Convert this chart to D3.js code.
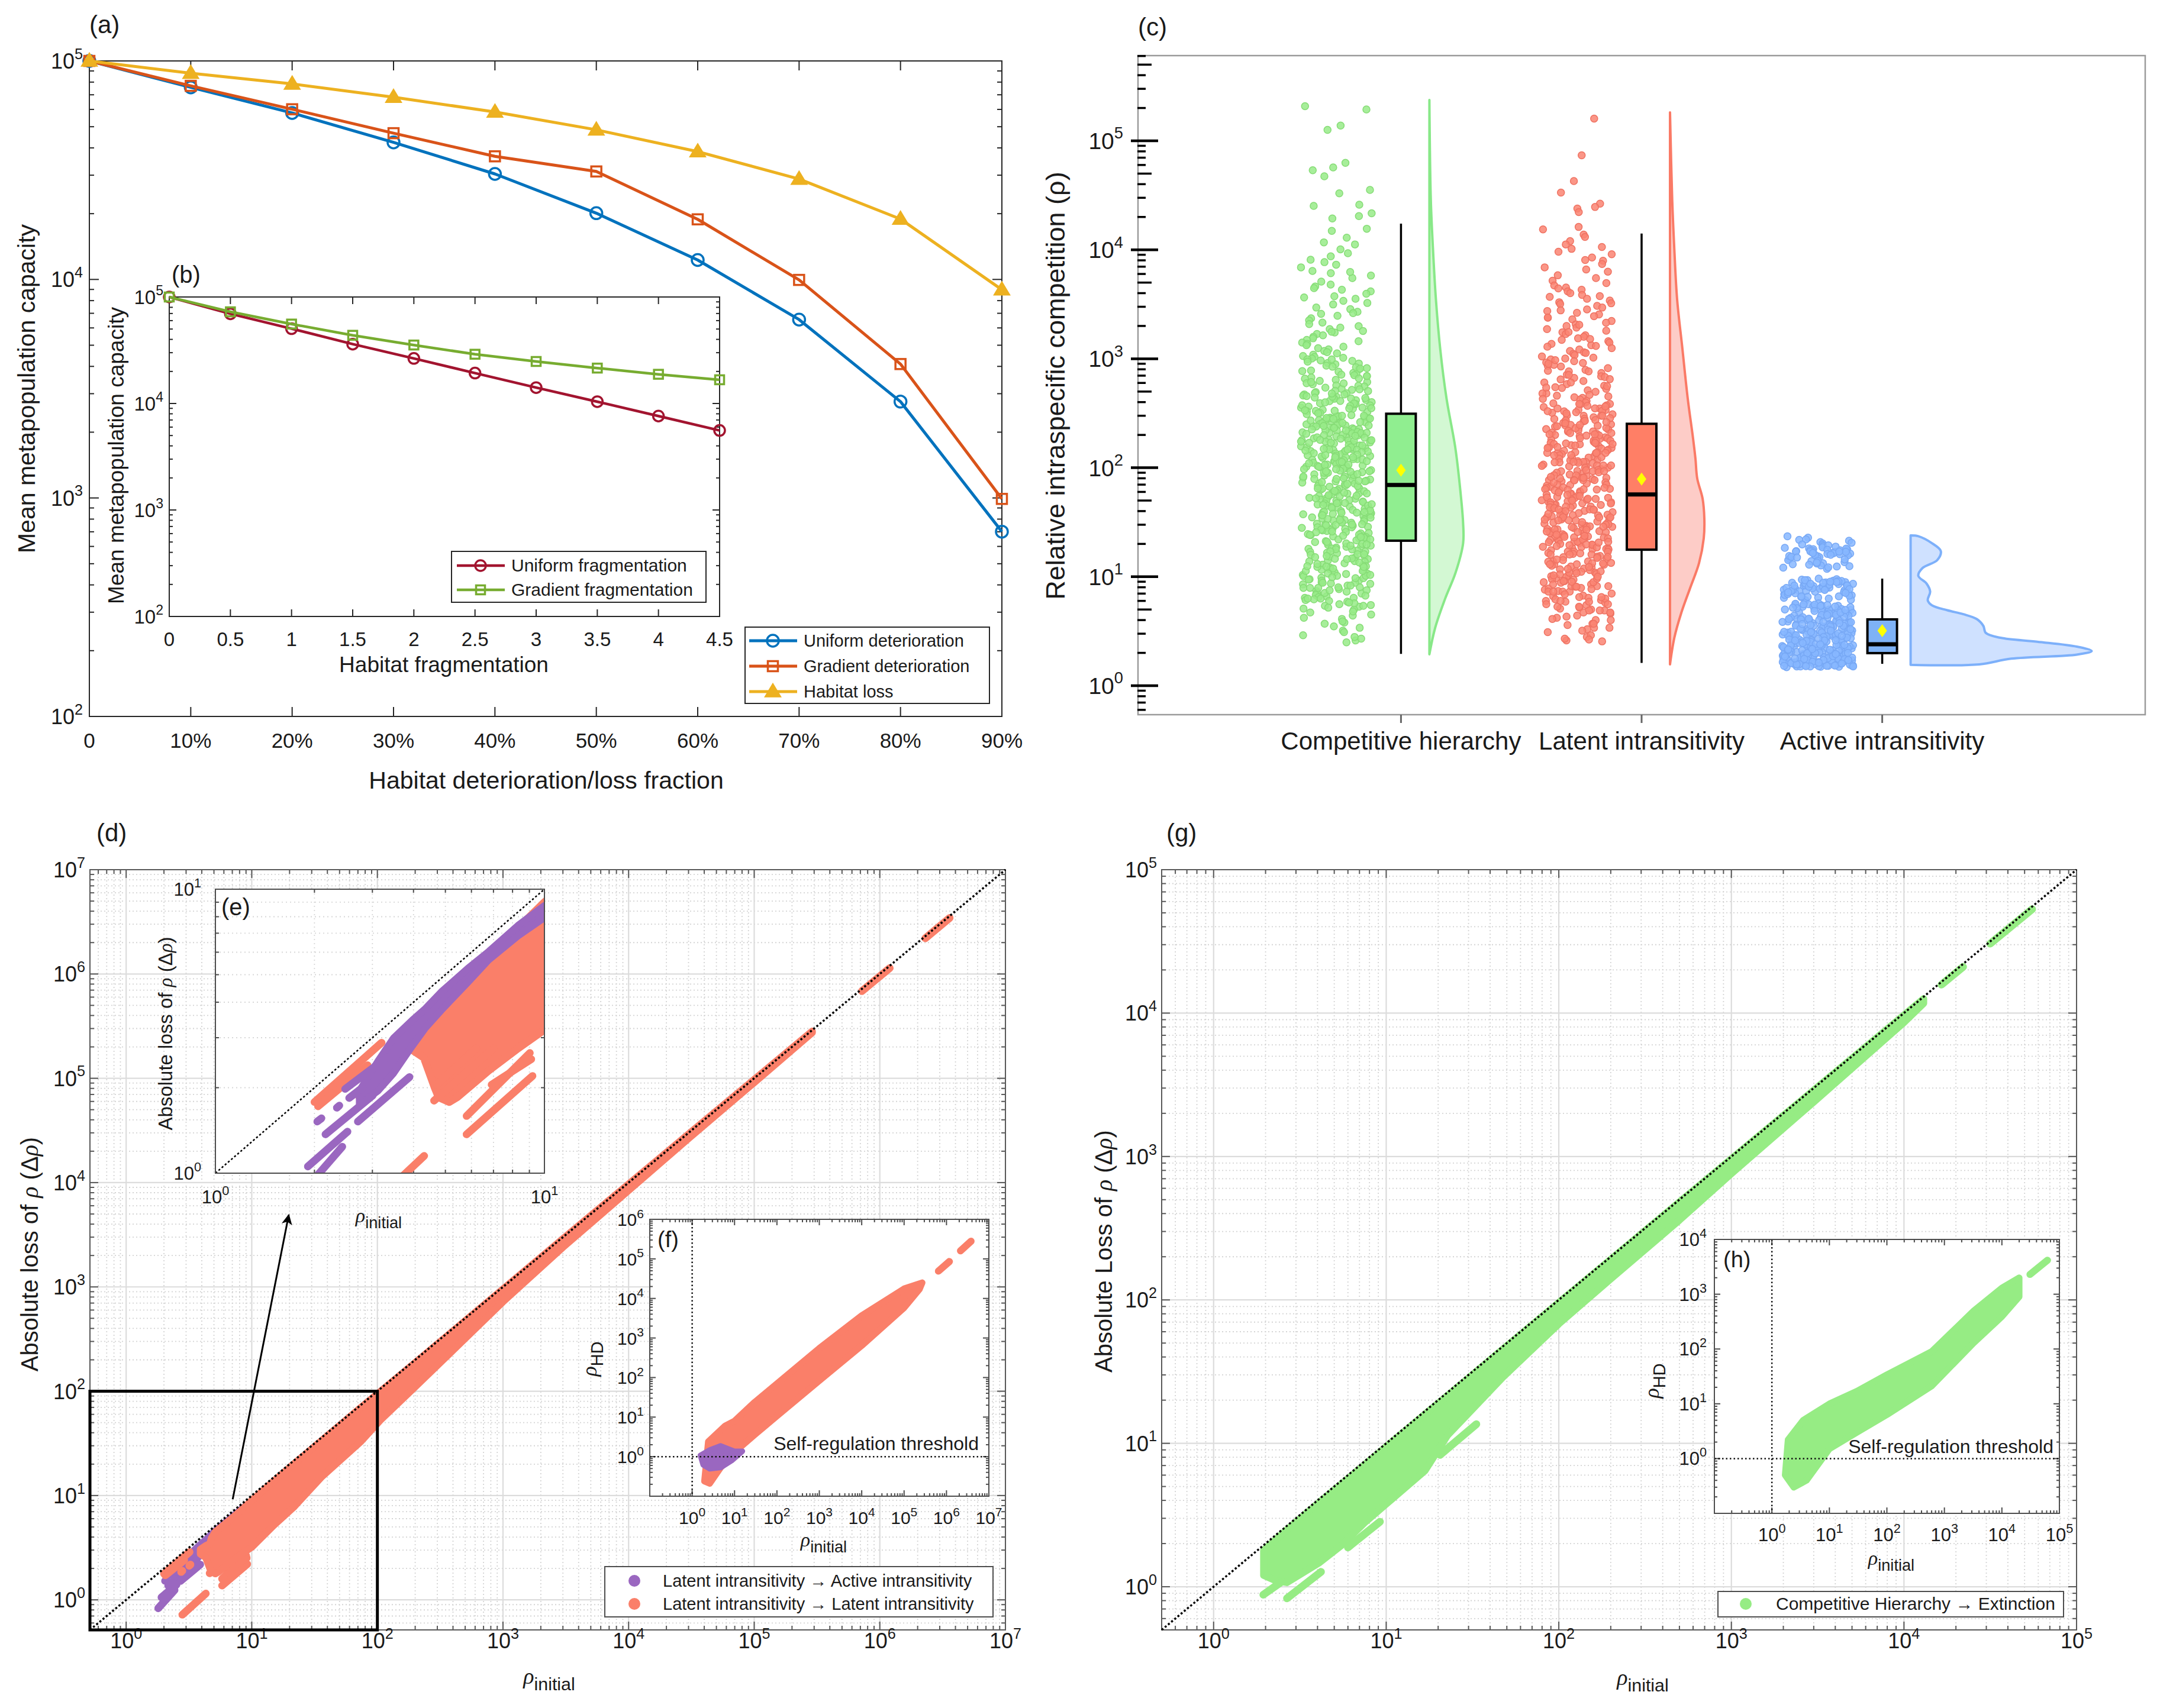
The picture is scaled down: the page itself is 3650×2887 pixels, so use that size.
<!DOCTYPE html>
<html><head><meta charset="utf-8">
<script src="https://cdn.jsdelivr.net/npm/d3@7/dist/d3.min.js"></script>
<style>
html,body{margin:0;padding:0;background:#fff;overflow:hidden;}
svg text{font-family:'Liberation Sans',Arial,Helvetica,sans-serif;}
</style></head><body>
<svg id="fig" width="3650" height="2887" viewBox="0 0 3650 2887"></svg>
<script>
// ================= DATA =================
// (a) metapopulation capacity vs habitat deterioration / loss fraction
const lossFraction=[0,0.1,0.2,0.3,0.4,0.5,0.6,0.7,0.8,0.9];
const lossFractionLabels=['0','10%','20%','30%','40%','50%','60%','70%','80%','90%'];
const uniformDeterioration=[100000,75700,57800,42400,30400,20100,12270,6550,2760,701];
const gradientDeterioration=[100000,76900,60100,46700,36600,31200,18840,9950,4100,990];
const habitatLoss=[100000,87900,78500,68300,58400,48400,38460,28800,18900,8980];
const capacityDecades=[100,1000,10000,100000];
// (b) metapopulation capacity vs habitat fragmentation
const fragmentation=[0,0.5,1,1.5,2,2.5,3,3.5,4,4.5];
const fragmentationLabels=['0','0.5','1','1.5','2','2.5','3','3.5','4','4.5'];
const uniformFragmentation=[100000,69500,50400,36100,26500,19300,14100,10400,7620,5580];
const gradientFragmentation=[100000,72600,55700,43700,35400,29000,24800,21500,18800,16700];

// (c) relative intraspecific competition by community type
const competitionGroups=['Competitive hierarchy','Latent intransitivity','Active intransitivity'];
const rhoDecades=[1,10,100,1000,10000,100000];
const boxQ1=[21.4,17.7,1.99];
const boxMedian=[69.5,56.9,2.40];
const boxQ3=[313,253,4.06];
const whiskerLow=[1.96,1.62,1.59];
const whiskerHigh=[17400,14100,9.6];
const groupMean=[95,78.8,3.2];
// violin half-densities: [rho, density]
const violinHierarchy=[[237000,0],[28900,0.024],[10100,0.061],[3520,0.11],[1230,0.183],[430,0.29],[150,0.44],[52.3,0.536],[30.9,0.57],[20.3,0.57],[10.8,0.44],[6.37,0.27],[3.39,0.097],[1.94,0]];
const violinLatent=[[182000,0],[28900,0.037],[10100,0.073],[3520,0.12],[1230,0.21],[430,0.30],[185,0.39],[121,0.43],[79.7,0.46],[52.3,0.55],[34.3,0.58],[22.5,0.57],[13.3,0.49],[7.87,0.34],[4.65,0.19],[2.75,0.073],[1.57,0]];
const violinActive=[[23.9,0],[23.5,0.13],[20.3,0.36],[17.2,0.51],[14.2,0.45],[12.0,0.20],[10.2,0.13],[8.64,0.27],[7.31,0.33],[6.07,0.29],[5.46,0.36],[4.92,0.62],[4.53,0.89],[4.08,1.12],[3.53,1.23],[3.05,1.27],[2.75,1.52],[2.53,2.14],[2.28,2.81],[2.08,3.06],[1.93,2.81],[1.77,1.70],[1.57,1.16],[1.555,0]];
// jittered raw points
const rhoHierarchy=[194000,208000,138000,126000,57000,62800,53700,47200,33000,35400,25900,25300,21600,20400,19400,15600,14900,12900,11700,11200,10100,
9300,8700,8100,7700,7300,6900,6400,6100,5800,5500,5100,4800,4600,4300,4150,3950,3750,3550,3400,3250,3150,2950,2850,2700,2580,2480,2350,2250,2150,2080,1990,1930,1870,1800,1740,1690,1640,1590,1540,1490,1450,1410,1370,1330,1290,1250,1220,1180,1150,1120,1090,1060,1040,1020,1005,6250,4450,3650,2620,1770,
990,965,940,915,890,865,845,820,800,780,760,742,725,707,690,673,657,641,626,611,597,583,569,556,543,530,518,506,494,482,471,460,449,439,429,419,409,400,391,382,373,364,356,348,340,332,325,318,985,905,835,770,715,660,612,566,524,485,449,416,385,356,330,955,812,694,595,508,436,374,
310,304,298,291,285,279,273,267,261,256,250,245,240,235,230,225,220,215,211,207,202,198,194,190,186,182,178,174,171,167,164,160,157,154,151,148,145,142,139,136,133,130,128,125,123,120,118,115,113,111,109,107,105,103,101,300,283,268,253,239,226,213,201,190,179,169,160,151,143,135,127,120,114,108,102,295,262,233,208,185,165,147,131,117,104,288,245,209,178,152,129,110,276,221,177,141,113,258,196,149,
99,97,95,93,91,89,87,85,83,81,80,78,76,75,73,72,70,69,67,66,64,63,62,60,59,58,57,55,54,53,52,51,50,49,48,47,46,45,44,43,42,41,40,39,38.2,37.4,36.6,35.8,35,34.2,33.4,32.7,32,31.3,30.6,30,29.3,28.7,28.1,27.5,26.9,26.3,25.7,25.2,24.6,24.1,23.6,23.1,22.6,22.1,21.6,21.2,98,90,84,77,71,65,61,56,52,48.5,45.5,42.5,39.5,37,34.6,32.3,30.3,28.4,26.6,25,23.4,22,94,79,68,58,50.5,44,38.7,33.9,29.7,26,22.8,86,
20.8,20.2,19.6,19,18.5,18,17.4,16.9,16.4,15.9,15.4,15,14.5,14.1,13.7,13.3,12.9,12.5,12.1,11.7,11.4,11,10.7,10.4,10.1,9.8,9.5,9.2,8.9,8.6,8.3,8,7.7,7.4,7.1,6.8,6.5,6.2,5.9,5.6,5.3,5,4.7,4.4,4.1,3.8,3.5,3.2,2.9,2.6,20,18.2,16.6,15.1,13.9,12.7,11.6,10.6,9.7,8.8,8,7.3,6.6,6,5.4,4.8,4.2,3.7,3.1,2.7,19.3,16.1,13.5,11.3,9.4,7.9,6.4,5.1,3.9,2.5,17.8,14.7,12.3,10.2,8.5,7,5.7,4.5,3.4,2.8,
480,455,432,410,389,369,350,333,316,300,285,271,257,244,232,220,209,199,189,179,170,162,154,146,139,132,125,119,113,107,102,97,92,87.5,83,79,75,71.5,68,64.5,61.3,58.2,55.3,52.5,49.9,47.4,45,42.8,40.6,38.6,36.7,34.8,33.1,31.4,29.9,28.4,27,25.6,24.3,23.1,22,20.9,19.8,18.8,17.9,17,16.1,15.3,14.6,13.8,13.1,12.5,11.9,11.3,10.7,10.2,9.7,9.2,8.7,8.3,7.9,7.5,7.1,6.7,6.4,6.1,5.8,5.5,5.2,
470,398,337,286,242,205,174,147,125,106,90,76,64.5,54.6,46.3,39.2,33.2,28.1,23.8,20.2,17.1,14.5,12.3,10.4,8.8,7.5,6.3,5.4,
440,352,281,225,180,144,115,92.5,74,59,47.3,37.8,30.2,24.2,19.3,15.5,12.4,9.9,7.9,6.3];
const rhoLatent=[160000,73600,42700,33500,26500,24700,23900,22200,16200,15400,13800,13100,12000,10600,11200,10200,
9600,9100,8500,7940,7400,6900,6600,6300,5830,5500,5200,4950,4700,4500,4300,4150,4000,3850,3700,3550,3420,3300,3180,3060,2950,2840,2740,2640,2550,2460,2380,2300,2220,2140,2070,2000,1930,1870,1810,1750,1690,1640,1590,1540,1490,1450,1410,1370,1330,1290,1250,1215,1180,1145,1110,1080,1050,1025,1005,4420,3760,3230,2780,2390,2050,1760,1520,1310,1130,8050,
985,950,915,880,850,820,790,765,740,715,690,668,646,625,605,585,566,548,530,513,497,481,466,451,437,423,410,397,385,373,361,350,339,329,319,309,300,291,282,274,266,258,970,860,765,680,605,540,480,428,382,340,303,270,925,775,650,545,458,385,323,272,900,710,560,443,350,280,
250,244,238,232,226,221,215,210,205,200,195,190,186,181,177,173,169,165,161,157,153,150,146,143,139,136,133,130,127,124,121,118,115,113,110,107,105,102,100,97.5,95.3,93,90.8,88.7,86.6,84.6,82.6,80.7,78.8,77,75.2,73.4,71.7,70,68.4,66.8,65.2,63.7,62.2,60.7,59.3,57.9,247,224,203,184,167,152,138,125,113,103,93.5,85,77,70,63.5,58,240,198,164,136,112,93,77,64,232,178,137,105,81,62,215,155,112,80,
56.5,55.2,54,52.8,51.6,50.4,49.3,48.2,47.1,46,45,44,43,42,41.1,40.2,39.3,38.4,37.5,36.7,35.9,35.1,34.3,33.5,32.8,32.1,31.4,30.7,30,29.3,28.7,28,27.4,26.8,26.2,25.6,25,24.5,23.9,23.4,22.9,22.4,21.9,21.4,20.9,20.4,20,19.5,19.1,18.7,18.3,17.9,55,50,45.5,41.5,37.8,34.4,31.3,28.5,26,23.7,21.6,19.7,18,53,44,36.5,30.3,25.2,21,18.2,48.5,40,33,27.2,22.5,18.6,47,37,29,23,46,35,27,20.7,
17.5,17,16.5,16,15.5,15.1,14.6,14.2,13.8,13.4,13,12.6,12.2,11.9,11.5,11.2,10.9,10.6,10.3,10,9.7,9.4,9.1,8.8,8.5,8.2,7.9,7.6,7.3,7,6.7,6.4,6.1,5.8,5.5,5.2,4.9,4.6,4.3,4,3.7,3.4,3.1,2.8,2.6,17,15.3,13.8,12.4,11.2,10.1,9.1,8.2,7.4,6.6,5.9,5.3,4.7,4.2,3.7,3.3,2.9,16.2,13.3,10.9,8.9,7.3,6,4.9,4,3.2,2.7,14.9,11.8,9.6,7.8,6.3,5.1,4.1,3.4,2.55,12.9,8.1,5.6,3.6,2.65,
390,370,351,333,316,300,285,270,256,243,231,219,208,197,187,178,169,160,152,144,137,130,123,117,111,105,100,95,90,85.5,81,77,73,69.5,66,62.6,59.4,56.4,53.5,50.8,48.2,45.8,43.4,41.2,39.1,37.1,35.2,33.4,31.7,30.1,28.6,27.1,25.7,24.4,23.2,22,20.9,19.8,18.8,17.8,16.9,16,15.2,14.4,13.7,13,12.3,11.7,11.1,10.5,10,9.5,9,8.5,8.1,7.7,7.3,6.9,6.5,6.2,5.9,5.6,5.3,5,4.7,4.4,
365,300,247,203,167,137,113,93,76.5,63,51.8,42.6,35,28.8,23.7,19.5,16,13.2,10.8,8.9,7.3,6,4.9,
330,262,208,165,131,104,82.5,65.5,52,41.3,32.8,26,20.6,16.4,13,10.3,8.2,6.5];
const rhoActive=[23.5,22.8,22,21.4,20.8,20.2,19.6,19.1,18.6,18.2,17.8,17.5,17.2,16.9,16.6,16.3,16,15.7,15.4,15.1,14.8,14.5,14.2,13.9,13.6,13.3,13,12.7,12.4,12.1,11.8,18.4,17.6,17,16.7,16.4,16.1,15.8,17.9,17.3,16.8,15.5,14,13.2,12.5,21.8,20.5,19.4,18.9,17.7,17.1,16.5,15.2,12.9,12.2,17.4,16.2,15.0,18.1,16.9,14.4,13.5,19.8,17.0,15.9,
9.6,9.4,9.2,9,8.85,8.7,8.55,8.4,8.25,8.1,7.95,7.8,7.65,7.5,7.35,7.2,7.05,6.9,6.75,6.6,6.45,6.3,6.15,6,9.5,9.1,8.8,8.5,8.2,7.9,7.6,7.3,7,6.7,6.4,6.1,9.3,8.9,8.6,8.3,8,7.7,7.4,7.1,6.8,6.5,9.15,8.75,8.35,7.85,7.45,6.95,6.55,9.05,8.45,7.75,8.95,8.65,8.05,7.55,8.8,8.1,7.4,9.3,8.6,7.9,7.2,6.6,9.0,8.3,
5.7,5.6,5.5,5.4,5.3,5.2,5.1,5,4.9,4.8,4.7,4.6,4.5,4.4,4.3,4.2,4.1,4,3.92,3.84,3.76,3.68,3.6,3.52,3.45,3.38,3.31,3.24,3.17,3.1,3.04,2.98,2.92,2.86,2.8,2.74,2.68,2.63,2.58,2.53,2.48,2.43,2.38,2.33,2.28,2.24,2.2,2.16,2.12,2.08,2.04,2,1.96,1.92,1.88,1.84,1.8,1.77,1.74,1.71,1.68,1.65,1.62,1.59,1.56,1.53,1.5,1.48,
5.65,5.35,5.05,4.75,4.45,4.15,3.88,3.64,3.42,3.21,3.01,2.83,2.66,2.5,2.35,2.22,2.1,1.98,1.87,1.78,1.69,1.61,1.54,1.49,
5.45,4.95,4.55,4.25,3.96,3.72,3.49,3.28,3.07,2.89,2.71,2.55,2.41,2.27,2.14,2.02,1.91,1.81,1.72,1.64,1.57,1.51,
5.55,4.85,4.35,4.05,3.8,3.56,3.34,3.13,2.95,2.77,2.6,2.45,2.31,2.18,2.06,1.94,1.83,1.74,1.66,1.58,1.52,
5.25,4.65,3.98,3.47,3.04,2.69,2.39,2.13,1.9,1.7,1.55,5.15,4.05,3.62,3.19,2.88,2.56,2.3,2.07,1.86,1.68,1.53,
4.9,3.85,3.36,2.96,2.62,2.34,2.09,1.89,1.71,1.56,1.49,5.58,4.38,3.7,3.15,2.73,2.44,2.19,1.97,1.79,1.63,1.5,
4.62,3.55,2.99,2.59,2.26,2.01,1.82,1.67,1.54,5.32,4.12,3.25,2.82,2.47,2.17,1.95,1.76,1.6,1.5,
4.48,3.4,2.91,2.52,2.24,1.99,1.8,1.65,1.52,3.82,3.08,2.65,2.36,2.11,1.93,1.75,1.61,3.58,2.94,2.57,2.29,2.05,1.86,1.72,1.58,
5.4,5.0,4.6,4.3,4.0,3.75,3.5,3.3,3.1,2.93,2.76,2.61,2.47,2.34,2.22,2.11,2.0,1.9,1.81,1.73,1.65,1.58,1.52,
5.2,4.7,4.2,3.85,3.55,3.27,3.02,2.8,2.6,2.42,2.26,2.12,1.99,1.87,1.76,1.66,1.57,1.5,
4.95,4.1,3.6,3.2,2.87,2.6,2.37,2.17,2.0,1.85,1.72,1.6,1.51,5.5,4.45,3.68,3.12,2.7,2.39,2.15,1.95,1.78,1.63,1.53];

// (d)/(e) rho_initial vs absolute loss of rho: point streaks [x0,y0,x1,y1] and dense bands [x, yHigh, yLow]
const activeStreaks=[[1.80,0.83,2.43,1.24],[1.91,1.056,2.52,1.40],[2.04,1.52,2.10,1.56],[2.16,1.37,3.01,1.88],[2.34,1.70,2.38,1.73],[2.71,1.52,3.89,2.18],[2.48,1.98,3.33,2.56],[2.55,1.84,2.80,2.0]];
const activeBand=[[2.74,1.95,1.75],[3.12,2.48,1.95],[3.48,2.99,2.25],[3.96,3.45,2.80],[4.35,3.80,3.25],[4.86,4.35,3.75],[5.85,5.26,4.7],[6.78,6.04,5.65],[8.31,7.45,6.85],[10,8.75,7.95]];
const latentStreaks=[[2.0,1.78,3.2,2.88],[2.05,1.72,2.9,2.4],[5.80,1.59,9.03,2.65],[5.80,1.37,9.20,2.20],[6.91,2.05,9.12,2.52],[2.8,0.72,4.31,1.15],[4.04,2.99,4.1,3.05],[2.74,1.85,2.8,1.9],[3.18,2.12,3.25,2.18],[4.62,1.8,7.0,2.75],[4.7,2.05,6.2,2.75],[720000,685000,1200000,1140000],[2300000,2200000,3600000,3450000]];
const latentBand=[[3.9,3.05,2.75],[4.3,3.3,2.55],[4.64,3.45,2.0],[4.77,3.9,1.85],[5.14,4.5,1.78],[5.43,4.75,1.85],[6.78,5.9,2.3],[8.31,7.3,2.75],[10,9.0,3.2],[15,13.8,5.2],[21.5,20,7.7],[35.8,33.5,15],[74,70,33],[106,100,53],[200,188,110],[500,475,320],[1000,955,720],[3000,2900,2400],[10000,9700,8400],[30000,29200,26500],[100000,97500,91000],[290000,283000,274000]];
const decadesD=[1,10,100,1000,10000,100000,1000000,10000000];
const zoomRegion=[100,100];
const zoomArrow=[[7.05,9.2],[19.7,4900]];
// (f) rho_initial vs rho_HD (latent intransitivity)
const selfRegulationThreshold=1;
const hdLatentUpper=[[2.4,2.4],[6,6],[10,8],[30,24],[100,70],[1000,550],[10000,3700],[100000,17600],[267000,25000]];
const hdLatentLower=[[1.95,0.24],[2.6,0.21],[4.7,0.53],[10,1.3],[30,3.6],[100,10.6],[1000,83],[10000,640],[100000,5800],[230000,17000]];
const hdLatentStreaks=[[646000,49000,1170000,85600],[2140000,160000,3800000,279000]];
const hdActiveOutline=[[1.56,1.08],[2.61,1.48],[4.72,1.88],[9.9,1.37],[15.4,1.37],[8.53,0.79],[4.72,0.53],[2.61,0.49],[1.81,0.62]];
const decadesFx=[1,10,100,1000,10000,100000,1000000,10000000];
const decadesFy=[1,10,100,1000,10000,100000,1000000];
// (g) competitive hierarchy -> extinction
const extinctionBand=[[1.95,1.8,1.2],[2.3,2.15,1.1],[2.66,2.5,1.07],[4.06,3.85,1.46],[5.5,5.2,1.94],[7.5,7.1,2.8],[10,9.5,3.77],[16.8,16,6.46],[22.7,21.6,11.4],[30,28.6,16.2],[47,45,28.6],[100,96,68],[200,192,140],[500,482,360],[1000,965,760],[3000,2900,2400],[10000,9700,8600],[13000,12600,11700]];
const extinctionStreaks=[[1.94,0.88,2.43,1.065],[2.66,0.83,4.19,1.27],[6.0,1.88,9.2,2.84],[20.5,8.3,33.3,13.6],[16500,15800,22000,21000],[31600,30500,55300,53000]];
const decadesG=[1,10,100,1000,10000,100000];
// (h) rho_initial vs rho_HD (competitive hierarchy)
const hdExtUpper=[[1.91,2.2],[3.5,5],[10,10],[30,17],[100,34],[600,90],[3250,500],[10000,1300],[20000,2000]];
const hdExtLower=[[1.7,0.5],[2.4,0.3],[4,0.4],[10,1.5],[30,3],[100,6.3],[600,21],[3250,130],[10000,390],[20000,900]];
const hdExtStreaks=[[30800,2300,62000,4170]];
const decadesHx=[1,10,100,1000,10000,100000];
const decadesHy=[1,10,100,1000,10000];

// ================= HELPERS =================
const svg=d3.select('#fig');
svg.append('rect').attr('width',3650).attr('height',2887).attr('fill','#fff');
const INK='#262626', TXT='#1a1a1a', SERIF="'Liberation Serif','DejaVu Serif',serif";
const PURPLE='#9A67C0', CORAL='#FA7F69', GREEN='#96EC84';
const defs=svg.append('defs');

function logMinors(lo,hi){const out=[];for(let e=Math.floor(Math.log10(lo))-1;e<=Math.ceil(Math.log10(hi));e++){for(let k=2;k<=9;k++){const v=k*Math.pow(10,e);if(v>lo*1.0001&&v<hi*0.9999)out.push(v);}}return out;}
function powLabel(g,x,y,v,fs,anchor){
  const e=Math.round(Math.log10(v));
  const t=g.append('text').attr('x',x).attr('y',y).attr('font-size',fs).attr('text-anchor',anchor).attr('fill',TXT);
  t.append('tspan').text('10');
  t.append('tspan').attr('dy',-fs*0.45).attr('font-size',fs*0.7).text(String(e));
  return t;
}
function txt(g,x,y,s,fs,anchor,extra){
  const t=g.append('text').attr('x',x).attr('y',y).attr('font-size',fs).attr('text-anchor',anchor||'start').attr('fill',TXT).text(s);
  if(extra) extra(t);
  return t;
}
function frameBox(g,x,y,col,sw){
  const xr=x.range(),yr=y.range();
  const L=Math.min(...xr),R=Math.max(...xr),B=Math.max(...yr),T=Math.min(...yr);
  g.append('rect').attr('x',L).attr('y',T).attr('width',R-L).attr('height',B-T).attr('fill','none').attr('stroke',col).attr('stroke-width',sw);
}
function matFrame(g,x,y,o){
  const xr=x.range(),yr=y.range();
  const L=Math.min(...xr),R=Math.max(...xr),B=Math.max(...yr),T=Math.min(...yr);
  const col=o.color||INK, tl=o.tickLen||14, tm=o.minorLen||7, sw=o.sw||2;
  if(o.background) g.append('rect').attr('x',L).attr('y',T).attr('width',R-L).attr('height',B-T).attr('fill',o.background);
  if(o.grid){
    const gg=g.append('g').attr('fill','none');
    const dash=o.gridDash||null;
    (o.xMinor||[]).forEach(v=>gg.append('line').attr('x1',x(v)).attr('x2',x(v)).attr('y1',T).attr('y2',B).attr('stroke',o.minorGrid||'#ececec').attr('stroke-width',1.8).attr('stroke-dasharray',dash));
    (o.yMinor||[]).forEach(v=>gg.append('line').attr('y1',y(v)).attr('y2',y(v)).attr('x1',L).attr('x2',R).attr('stroke',o.minorGrid||'#ececec').attr('stroke-width',1.8).attr('stroke-dasharray',dash));
    if(o.majorGrid){
      (o.xMajor||[]).forEach(v=>gg.append('line').attr('x1',x(v)).attr('x2',x(v)).attr('y1',T).attr('y2',B).attr('stroke',o.majorGrid).attr('stroke-width',2.2));
      (o.yMajor||[]).forEach(v=>gg.append('line').attr('y1',y(v)).attr('y2',y(v)).attr('x1',L).attr('x2',R).attr('stroke',o.majorGrid).attr('stroke-width',2.2));
    }
  }
  const tk=g.append('g').attr('stroke',col).attr('stroke-width',sw);
  const vt=(v,len)=>{const p=x(v);tk.append('line').attr('x1',p).attr('x2',p).attr('y1',B).attr('y2',B-len);tk.append('line').attr('x1',p).attr('x2',p).attr('y1',T).attr('y2',T+len);};
  const ht=(v,len)=>{const p=y(v);tk.append('line').attr('y1',p).attr('y2',p).attr('x1',L).attr('x2',L+len);tk.append('line').attr('y1',p).attr('y2',p).attr('x1',R).attr('x2',R-len);};
  (o.xMajor||[]).forEach(v=>vt(v,tl));(o.xMinor||[]).forEach(v=>vt(v,tm));
  (o.yMajor||[]).forEach(v=>ht(v,tl));(o.yMinor||[]).forEach(v=>ht(v,tm));
  frameBox(g,x,y,col,sw);
}
function marker(g,type,cx,cy,color,s){
  if(type==='circle') g.append('circle').attr('cx',cx).attr('cy',cy).attr('r',s).attr('fill','none').attr('stroke',color).attr('stroke-width',3.5);
  else if(type==='square') g.append('rect').attr('x',cx-s).attr('y',cy-s).attr('width',2*s).attr('height',2*s).attr('fill','none').attr('stroke',color).attr('stroke-width',3.5);
  else g.append('path').attr('d',`M${cx},${cy-s*1.2}L${cx+s*1.2},${cy+s*0.8}L${cx-s*1.2},${cy+s*0.8}Z`).attr('fill',color).attr('stroke',color).attr('stroke-width',2);
}
function drawBand(g,x,y,data,color,sw){
  const area=d3.area().x(d=>x(d[0])).y0(d=>y(d[2])).y1(d=>y(d[1]));
  g.append('path').attr('d',area(data)).attr('fill',color).attr('stroke',color).attr('stroke-width',sw).attr('stroke-linejoin','round');
}
function drawStreaks(g,x,y,data,color,sw){
  data.forEach(s=>g.append('line').attr('x1',x(s[0])).attr('y1',y(s[1])).attr('x2',x(s[2])).attr('y2',y(s[3])).attr('stroke',color).attr('stroke-width',sw).attr('stroke-linecap','round'));
}
function drawOutline(g,x,y,pts,color,sw){
  const line=d3.line().x(d=>x(d[0])).y(d=>y(d[1])).curve(d3.curveLinearClosed);
  g.append('path').attr('d',line(pts)).attr('fill',color).attr('stroke',color).attr('stroke-width',sw).attr('stroke-linejoin','round');
}
function rhoSub(g,cx,cy,sub,fs,rotate){
  const t=g.append('text').attr('font-size',fs).attr('text-anchor','middle').attr('fill',TXT)
    .attr('transform',rotate?`translate(${cx},${cy}) rotate(-90)`:`translate(${cx},${cy})`);
  t.append('tspan').attr('font-family',SERIF).attr('font-style','italic').text('ρ');
  t.append('tspan').attr('dy',fs*0.3).attr('font-size',fs*0.8).text(sub);
  return t;
}
function lossLabel(g,cx,cy,word,fs){
  const t=g.append('text').attr('font-size',fs).attr('text-anchor','middle').attr('fill',TXT).attr('dy','0.35em')
    .attr('transform',`translate(${cx},${cy}) rotate(-90)`);
  t.append('tspan').text(word+' of ');
  t.append('tspan').attr('font-family',SERIF).attr('font-style','italic').text('ρ');
  t.append('tspan').text(' (Δ');
  t.append('tspan').attr('font-family',SERIF).attr('font-style','italic').text('ρ');
  t.append('tspan').text(')');
}
function thresholdLines(g,x,y,thr){
  const xr=x.range(),yr=y.range();
  g.append('line').attr('x1',x(thr)).attr('x2',x(thr)).attr('y1',Math.min(...yr)).attr('y2',Math.max(...yr)).attr('stroke','#111').attr('stroke-width',2.5).attr('stroke-dasharray','2.5,4');
  g.append('line').attr('y1',y(thr)).attr('y2',y(thr)).attr('x1',Math.min(...xr)).attr('x2',Math.max(...xr)).attr('stroke','#111').attr('stroke-width',2.5).attr('stroke-dasharray','2.5,4');
}
function diagonal(g,x,y,lo,hi,w){
  g.append('line').attr('x1',x(lo)).attr('y1',y(lo)).attr('x2',x(hi)).attr('y2',y(hi)).attr('stroke','#000').attr('stroke-width',w).attr('stroke-dasharray','3.5,3.5');
}

// ================= PANEL (a) =================
const gA=svg.append('g');
const xA=d3.scaleLinear().domain([0,0.9]).range([151,1693]);
const yA=d3.scaleLog().domain([100,1e5]).range([1211,103]);
matFrame(gA,xA,yA,{xMajor:lossFraction,yMajor:capacityDecades,yMinor:logMinors(100,1e5),tickLen:16,minorLen:8});
lossFraction.forEach((v,i)=>txt(gA,xA(v),1264,lossFractionLabels[i],35,'middle'));
capacityDecades.forEach(v=>powLabel(gA,140,yA(v)+13,v,36,'end'));
txt(gA,923,1333,'Habitat deterioration/loss fraction',41,'middle');
txt(gA,0,0,'Mean metapopulation capacity',41,'middle',t=>t.attr('transform','translate(45,657) rotate(-90)').attr('dy','0.35em'));
txt(gA,151,56,'(a)',42,'start');
const seriesA=[
  {name:'Uniform deterioration',vals:uniformDeterioration,color:'#0072BD',mk:'circle',s:10},
  {name:'Gradient deterioration',vals:gradientDeterioration,color:'#D95319',mk:'square',s:8.5},
  {name:'Habitat loss',vals:habitatLoss,color:'#EDB120',mk:'triangle',s:11}];
seriesA.forEach(s=>{
  gA.append('path').datum(s.vals).attr('d',d3.line().x((d,i)=>xA(lossFraction[i])).y(d=>yA(d))).attr('fill','none').attr('stroke',s.color).attr('stroke-width',5).attr('stroke-linejoin','round');
  s.vals.forEach((v,i)=>marker(gA,s.mk,xA(lossFraction[i]),yA(v),s.color,s.s));
});
// legend (a)
gA.append('rect').attr('x',1259).attr('y',1060).attr('width',413).attr('height',129).attr('fill','#fff').attr('stroke',INK).attr('stroke-width',2);
seriesA.forEach((s,i)=>{const yy=1083+i*43;
  gA.append('line').attr('x1',1266).attr('x2',1347).attr('y1',yy).attr('y2',yy).attr('stroke',s.color).attr('stroke-width',5);
  marker(gA,s.mk,1306,yy,s.color,s.s);
  txt(gA,1358,yy+10,s.name,29,'start');});

// ================= PANEL (b) inset =================
const gB=svg.append('g');
const xB=d3.scaleLinear().domain([0,4.5]).range([286,1216]);
const yB=d3.scaleLog().domain([100,1e5]).range([1042,502]);
matFrame(gB,xB,yB,{background:'#fff',xMajor:fragmentation,yMajor:capacityDecades,yMinor:logMinors(100,1e5),tickLen:12,minorLen:6});
fragmentation.forEach((v,i)=>txt(gB,xB(v),1092,fragmentationLabels[i],33,'middle'));
capacityDecades.forEach(v=>powLabel(gB,276,yB(v)+12,v,33,'end'));
txt(gB,750,1136,'Habitat fragmentation',37,'middle');
txt(gB,0,0,'Mean metapopulation capacity',37,'middle',t=>t.attr('transform','translate(196,770) rotate(-90)').attr('dy','0.35em'));
txt(gB,290,478,'(b)',40,'start');
const seriesB=[
  {name:'Uniform fragmentation',vals:uniformFragmentation,color:'#A2142F',mk:'circle',s:9},
  {name:'Gradient fragmentation',vals:gradientFragmentation,color:'#77AC30',mk:'square',s:7.5}];
seriesB.forEach(s=>{
  gB.append('path').datum(s.vals).attr('d',d3.line().x((d,i)=>xB(fragmentation[i])).y(d=>yB(d))).attr('fill','none').attr('stroke',s.color).attr('stroke-width',4.5);
  s.vals.forEach((v,i)=>marker(gB,s.mk,xB(fragmentation[i]),yB(v),s.color,s.s));
});
gB.append('rect').attr('x',763).attr('y',932).attr('width',430).attr('height',86).attr('fill','#fff').attr('stroke',INK).attr('stroke-width',2);
seriesB.forEach((s,i)=>{const yy=956+i*41;
  gB.append('line').attr('x1',772).attr('x2',853).attr('y1',yy).attr('y2',yy).attr('stroke',s.color).attr('stroke-width',4.5);
  marker(gB,s.mk,812,yy,s.color,s.s);
  txt(gB,864,yy+10,s.name,30,'start');});

// ================= PANEL (c) =================
const gC=svg.append('g');
const yC=d3.scaleLog().domain([0.542,605000]).range([1208,94]);
const xC=d3.scalePoint().domain(competitionGroups).range([1923,3625]).padding(1.093);
gC.append('rect').attr('x',1923).attr('y',94).attr('width',1702).attr('height',1114).attr('fill','#fff').attr('stroke','#9a9a9a').attr('stroke-width',2.5);
rhoDecades.forEach(v=>{
  gC.append('line').attr('x1',1911).attr('x2',1957).attr('y1',yC(v)).attr('y2',yC(v)).attr('stroke','#000').attr('stroke-width',4.5);
  powLabel(gC,1898,yC(v)+14,v,39,'end');
});
logMinors(0.542,605000).forEach(v=>{
  const m=v/Math.pow(10,Math.floor(Math.log10(v)+1e-9));
  const len=Math.abs(m-5)<1e-6?24:14;
  gC.append('line').attr('x1',1922).attr('x2',1922+len).attr('y1',yC(v)).attr('y2',yC(v)).attr('stroke','#000').attr('stroke-width',3.5);
});
txt(gC,0,0,'Relative intraspecific competition (ρ)',45,'middle',t=>t.attr('transform','translate(1783,652) rotate(-90)').attr('dy','0.35em'));
txt(gC,1923,60,'(c)',42,'start');
const styleC=[
  {vals:rhoHierarchy,pt:'#98EB88',ptStroke:'#86DC76',box:'#90EE90',vFill:'#90EE90',vLine:'#88E888',violin:violinHierarchy},
  {vals:rhoLatent,pt:'#FA8472',ptStroke:'#EF7262',box:'#FF7F66',vFill:'#FA8072',vLine:'#FA7A66',violin:violinLatent},
  {vals:rhoActive,pt:'#87B7FF',ptStroke:'#77A8F5',box:'#7EB2F6',vFill:'#87B5FF',vLine:'#7DB0FA',violin:violinActive}];
// deterministic horizontal spread (layout only, values untouched)
function jit(i,gi){const s=Math.sin((i+1)*12.9898+gi*78.233)*43758.5453;return s-Math.floor(s);}
competitionGroups.forEach((name,gi)=>{
  const c=xC(name), st=styleC[gi];
  gC.append('line').attr('x1',c).attr('x2',c).attr('y1',1208).attr('y2',1222).attr('stroke','#666').attr('stroke-width',3);
  txt(gC,c,1267,name,42,'middle');
  const gp=gC.append('g');
  st.vals.forEach((v,i)=>gp.append('circle').attr('cx',c-109+(jit(i,gi)-0.5)*120).attr('cy',yC(v)).attr('r',6)
    .attr('fill',st.pt).attr('fill-opacity',0.85).attr('stroke',st.ptStroke).attr('stroke-width',1.5));
  // whisker + box
  gC.append('line').attr('x1',c).attr('x2',c).attr('y1',yC(whiskerLow[gi])).attr('y2',yC(whiskerHigh[gi])).attr('stroke','#000').attr('stroke-width',3.5);
  gC.append('rect').attr('x',c-25).attr('y',yC(boxQ3[gi])).attr('width',50).attr('height',yC(boxQ1[gi])-yC(boxQ3[gi])).attr('fill',st.box).attr('stroke','#000').attr('stroke-width',4);
  gC.append('line').attr('x1',c-25).attr('x2',c+25).attr('y1',yC(boxMedian[gi])).attr('y2',yC(boxMedian[gi])).attr('stroke','#000').attr('stroke-width',7);
  const my=yC(groupMean[gi]);
  gC.append('path').attr('d',`M${c},${my-11}L${c+8},${my}L${c},${my+11}L${c-8},${my}Z`).attr('fill','#FFFF00');
  // half violin
  const x0=c+48;
  const area=d3.area().y(d=>yC(d[0])).x0(x0).x1(d=>x0+d[1]*100).curve(d3.curveCatmullRom.alpha(0.5));
  gC.append('path').attr('d',area(st.violin)).attr('fill',st.vFill).attr('fill-opacity',0.4).attr('stroke',st.vLine).attr('stroke-width',4).attr('stroke-linejoin','round');
});

// ================= PANEL (d) =================
const gD=svg.append('g');
const xD=d3.scaleLog().domain([0.515,1e7]).range([152,1699]);
const yD=d3.scaleLog().domain([0.515,1e7]).range([2755,1470]);
const minD=logMinors(0.515,1e7);
matFrame(gD,xD,yD,{grid:true,majorGrid:'#dcdcdc',minorGrid:'#d4d4d4',gridDash:'2,4',xMajor:decadesD,yMajor:decadesD,xMinor:minD,yMinor:minD,color:'#595959',tickLen:14,minorLen:7});
decadesD.forEach(v=>{powLabel(gD,xD(v),2786,v,36,'middle');powLabel(gD,144,yD(v)+13,v,36,'end');});
lossLabel(gD,50,2120,'Absolute loss',40);
rhoSub(gD,928,2846,'initial',38,false);
txt(gD,163,1422,'(d)',42,'start');
drawStreaks(gD,xD,yD,activeStreaks,PURPLE,13);
drawBand(gD,xD,yD,activeBand,PURPLE,12);
drawStreaks(gD,xD,yD,latentStreaks,CORAL,13);
drawBand(gD,xD,yD,latentBand,CORAL,12);
diagonal(gD,xD,yD,0.515,1e7,3.5);
gD.append('rect').attr('x',xD(0.515)).attr('y',yD(zoomRegion[1])).attr('width',xD(zoomRegion[0])-xD(0.515)).attr('height',yD(0.515)-yD(zoomRegion[1])).attr('fill','none').attr('stroke','#000').attr('stroke-width',5);
defs.append('marker').attr('id','arrowHead').attr('viewBox','0 0 10 10').attr('refX',9).attr('refY',5).attr('markerWidth',6).attr('markerHeight',6).attr('orient','auto')
  .append('path').attr('d','M0,0L10,5L0,10L2.5,5Z').attr('fill','#000');
gD.append('line').attr('x1',xD(zoomArrow[0][0])).attr('y1',yD(zoomArrow[0][1])).attr('x2',xD(zoomArrow[1][0])).attr('y2',yD(zoomArrow[1][1])).attr('stroke','#000').attr('stroke-width',3).attr('marker-end','url(#arrowHead)');

// ---- inset (e)
const gE=svg.append('g');
const xE=d3.scaleLog().domain([1,10]).range([364,920]);
const yE=d3.scaleLog().domain([1,10]).range([1983,1503]);
matFrame(gE,xE,yE,{background:'#fff',grid:true,minorGrid:'#d8d8d8',gridDash:'2,5',xMajor:[1,10],yMajor:[1,10],xMinor:logMinors(1,10),yMinor:logMinors(1,10),color:'#4d4d4d',tickLen:10,minorLen:6});
defs.append('clipPath').attr('id','clipE').append('rect').attr('x',364).attr('y',1503).attr('width',556).attr('height',480);
const gEd=gE.append('g').attr('clip-path','url(#clipE)');
drawBand(gEd,xE,yE,latentBand,CORAL,13);
drawStreaks(gEd,xE,yE,latentStreaks,CORAL,13);
drawBand(gEd,xE,yE,activeBand,PURPLE,12);
drawStreaks(gEd,xE,yE,activeStreaks,PURPLE,13);
diagonal(gEd,xE,yE,1,10,2.5);
frameBox(gE,xE,yE,'#4d4d4d',2);
[1,10].forEach(v=>{powLabel(gE,340,yE(v)+11,v,31,'end');powLabel(gE,xE(v),2034,v,31,'middle');});
lossLabel(gE,279,1747,'Absolute loss',33);
rhoSub(gE,640,2066,'initial',34,false);
txt(gE,374,1547,'(e)',40,'start');

// ---- inset (f)
const gF=svg.append('g');
const xF=d3.scaleLog().domain([0.1,1e7]).range([1098,1671]);
const yF=d3.scaleLog().domain([0.1,1e6]).range([2529,2061]);
matFrame(gF,xF,yF,{background:'#fff',xMajor:decadesFx,yMajor:decadesFy,xMinor:logMinors(0.1,1e7),yMinor:logMinors(0.1,1e6),color:'#4d4d4d',tickLen:10,minorLen:5});
drawOutline(gF,xF,yF,hdLatentUpper.concat(hdLatentLower.slice().reverse()),CORAL,11);
drawStreaks(gF,xF,yF,hdLatentStreaks,CORAL,12);
drawOutline(gF,xF,yF,hdActiveOutline,PURPLE,9);
thresholdLines(gF,xF,yF,selfRegulationThreshold);
frameBox(gF,xF,yF,'#4d4d4d',2);
decadesFy.forEach(v=>powLabel(gF,1088,yF(v)+11,v,30,'end'));
decadesFx.forEach(v=>powLabel(gF,xF(v),2576,v,30,'middle'));
txt(gF,1654,2451,'Self-regulation threshold',32,'end',t=>t.attr('font-family',SERIF));
rhoSub(gF,1008,2297,'HD',36,true);
rhoSub(gF,1392,2614,'initial',34,false);
txt(gF,1111,2108,'(f)',38,'start');

// ---- legend (d)
const gLD=svg.append('g');
gLD.append('rect').attr('x',1022).attr('y',2648).attr('width',656).attr('height',85).attr('fill','#fff').attr('stroke','#4d4d4d').attr('stroke-width',2);
[['Latent intransitivity → Active intransitivity',PURPLE],['Latent intransitivity → Latent intransitivity',CORAL]].forEach((e,i)=>{
  const yy=2672+i*39;
  gLD.append('circle').attr('cx',1072).attr('cy',yy).attr('r',10).attr('fill',e[1]);
  txt(gLD,1120,yy+10,e[0],29,'start');
});

// ================= PANEL (g) =================
const gG=svg.append('g');
const xG=d3.scaleLog().domain([0.5,1e5]).range([1963,3509]);
const yG=d3.scaleLog().domain([0.5,1e5]).range([2755,1470]);
const minG=logMinors(0.5,1e5);
matFrame(gG,xG,yG,{grid:true,majorGrid:'#dcdcdc',minorGrid:'#d4d4d4',gridDash:'2,4',xMajor:decadesG,yMajor:decadesG,xMinor:minG,yMinor:minG,color:'#595959',tickLen:14,minorLen:7});
decadesG.forEach(v=>{powLabel(gG,xG(v),2786,v,36,'middle');powLabel(gG,1955,yG(v)+13,v,36,'end');});
lossLabel(gG,1865,2115,'Absolute Loss',40);
rhoSub(gG,2776,2848,'initial',38,false);
txt(gG,1971,1422,'(g)',42,'start');
drawBand(gG,xG,yG,extinctionBand,GREEN,12);
drawStreaks(gG,xG,yG,extinctionStreaks,GREEN,13);
diagonal(gG,xG,yG,0.5,1e5,3.5);

// ---- inset (h)
const gH=svg.append('g');
const xH=d3.scaleLog().domain([0.1,1e5]).range([2897,3480]);
const yH=d3.scaleLog().domain([0.1,1e4]).range([2558,2095]);
matFrame(gH,xH,yH,{background:'#fff',xMajor:decadesHx,yMajor:decadesHy,xMinor:logMinors(0.1,1e5),yMinor:logMinors(0.1,1e4),color:'#4d4d4d',tickLen:10,minorLen:5});
drawOutline(gH,xH,yH,hdExtUpper.concat(hdExtLower.slice().reverse()),GREEN,11);
drawStreaks(gH,xH,yH,hdExtStreaks,GREEN,12);
thresholdLines(gH,xH,yH,selfRegulationThreshold);
frameBox(gH,xH,yH,'#4d4d4d',2);
decadesHy.forEach(v=>powLabel(gH,2884,yH(v)+11,v,31,'end'));
decadesHx.forEach(v=>powLabel(gH,xH(v),2605,v,31,'middle'));
txt(gH,3470,2456,'Self-regulation threshold',32,'end',t=>t.attr('font-family',SERIF));
rhoSub(gH,2803,2334,'HD',36,true);
rhoSub(gH,3196,2645,'initial',34,false);
txt(gH,2912,2142,'(h)',38,'start');

// ---- legend (g)
const gLG=svg.append('g');
gLG.append('rect').attr('x',2903).attr('y',2690).attr('width',584).attr('height',43).attr('fill','#fff').attr('stroke','#4d4d4d').attr('stroke-width',2);
gLG.append('circle').attr('cx',2950).attr('cy',2711).attr('r',10).attr('fill',GREEN);
txt(gLG,3001,2721,'Competitive Hierarchy → Extinction',30,'start');
</script></body></html>
